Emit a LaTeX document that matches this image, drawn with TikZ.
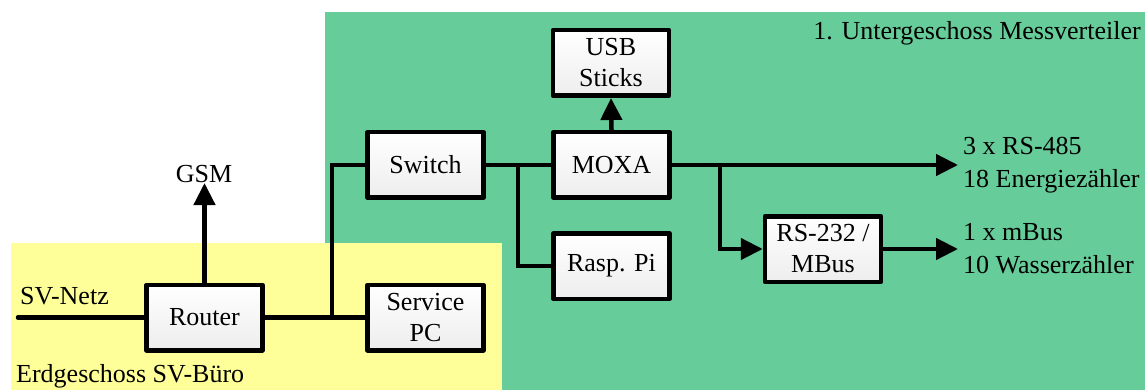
\documentclass[tikz,border=0pt]{standalone}
\usepackage{fontspec}
\setmainfont{Liberation Serif}
\newfontfamily\timesf{Liberation Serif}
\usetikzlibrary{arrows.meta}
\definecolor{zonegreen}{RGB}{102,204,153}
\definecolor{zoneyellow}{RGB}{255,255,153}
\begin{document}
\begin{tikzpicture}[x=1pt,y=1pt,
  font=\timesf\fontsize{26}{31}\selectfont,
  box/.style={draw=black, line width=4.5pt, line join=round, top color=white, bottom color=gray!14,
    minimum width=116pt, minimum height=65.5pt, inner sep=0pt, align=center},
  wire/.style={line width=4.5pt, line join=miter},
  arr/.style={wire, -{Triangle[length=22pt,width=21pt]}},
  lbl/.style={inner sep=0pt, align=left},
  outlbl/.style={lbl, anchor=west, font=\timesf\fontsize{26}{33}\selectfont}]
\useasboundingbox (0,0) rectangle (1145,-390);
% zones
\fill[zonegreen] (325,-12) rectangle (1145,-390);
\fill[zoneyellow] (11,-243) rectangle (502,-390);
\node[lbl, anchor=east] (ug) at (1141,-33) {1. Untergeschoss Messverteiler};
\node[lbl, anchor=west] (eg) at (16,-376) {Erdgeschoss SV-Büro};
% boxes
\node[box] (router) at (204.5,-317.5) {Router};
\node[box] (spc) at (425.5,-317.5) {Service\\PC};
\node[box] (switch) at (425.5,-165) {Switch};
\node[box] (moxa) at (611.5,-165) {MOXA};
\node[box] (usb) at (611,-63) {USB\\Sticks};
\node[box] (pi) at (611.5,-266) {Rasp. Pi};
\node[box] (rs) at (823,-249) {RS-232 /\\MBus};
% labels
\node[lbl, anchor=west] (svnetz) at (20,-296) {SV-Netz};
\node[lbl] (gsm) at (204,-174) {GSM};
\node[outlbl] (rs485) at (963,-165) {3 x RS-485\\18 Energiezähler};
\node[outlbl] (mbus) at (963,-249) {1 x mBus\\10 Wasserzähler};
% coordinates
\coordinate (netzend) at (18,-317.5);
\coordinate (j1) at (332,-317.5);
\coordinate (j1top) at (332,-165);
\coordinate (j2) at (518,-165);
\coordinate (j3) at (720,-165);
\coordinate (out1) at (958,-165);
\coordinate (out2) at (958,-249);
\coordinate (gsmtip) at (204.5,-183);
% connectors
\draw[wire, line cap=round] (netzend) -- (router.west);
\draw[wire] (router.east) -- (spc.west);
\draw[wire] (j1) -- (j1top) -- (switch.west);
\draw[wire] (switch.east) -- (moxa.west);
\draw[wire] (j2) |- (pi.west);
\draw[arr] (router.north) -- (gsmtip);
\draw[arr] (moxa.north) -- (usb.south);
\draw[arr] (moxa.east) -- (out1);
\draw[arr] (j3) |- (rs.west);
\draw[arr] (rs.east) -- (out2);
\end{tikzpicture}
\end{document}
